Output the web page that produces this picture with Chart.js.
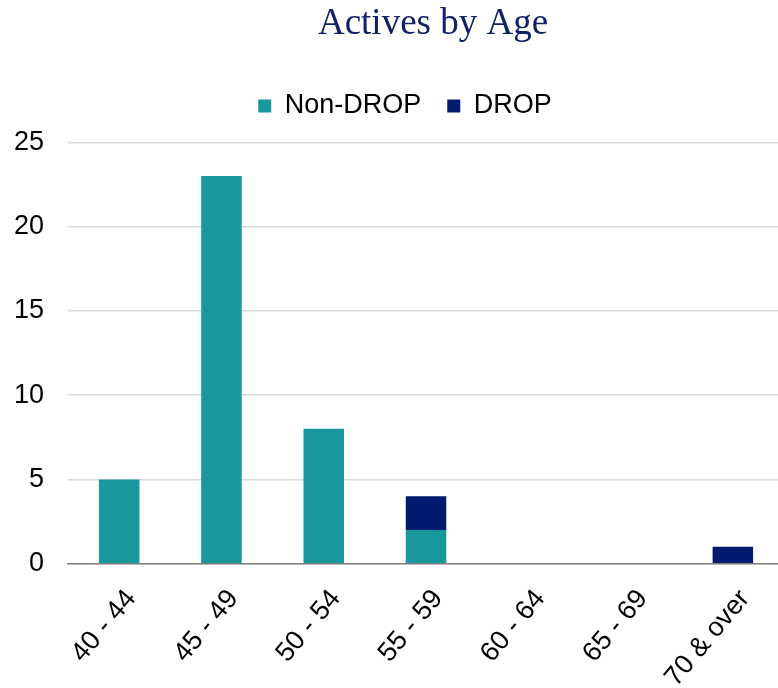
<!DOCTYPE html>
<html>
<head>
<meta charset="utf-8">
<script src="https://cdn.jsdelivr.net/npm/chart.js@4/dist/chart.umd.min.js"></script>
<style>
html,body{margin:0;padding:0;background:#fff;overflow:hidden;width:778px;height:688px;}
#wrap{width:784px;height:688px;}
</style>
</head>
<body>
<div id="wrap"><canvas id="c" width="784" height="688"></canvas></div>
<script>
const categories = ["40 - 44","45 - 49","50 - 54","55 - 59","60 - 64","65 - 69","70 & over"];
const nonDrop = [5,23,8,2,0,0,0];
const drop = [0,0,0,2,0,0,1];
const yTicks = [0,5,10,15,20,25];

const layoutTweaks = {
  id: 'layoutTweaks',
  beforeInit(chart) {
    const origFit = chart.legend.fit;
    chart.legend.fit = function () {
      origFit.call(this);
      this.height += 13;
    };
  },
  afterLayout(chart) {
    if (chart.titleBlock) { chart.titleBlock.left += 14; }
    if (chart.legend) { chart.legend.left += 12; }
  }
};

new Chart(document.getElementById('c'), {
  type: 'bar',
  data: {
    labels: categories,
    datasets: [
      {label: 'Non-DROP', data: nonDrop, backgroundColor: '#18989C', borderWidth: 0, categoryPercentage: 0.44, barPercentage: 0.9},
      {label: 'DROP', data: drop, backgroundColor: '#021B6E', borderWidth: 0, categoryPercentage: 0.44, barPercentage: 0.9}
    ]
  },
  plugins: [layoutTweaks],
  options: {
    responsive: false,
    animation: false,
    layout: {padding: {left: 14, right: 0, top: 2, bottom: 0}},
    plugins: {
      title: {
        display: true, text: 'Actives by Age', fullSize: false,
        color: '#0F2167',
        font: {family: '"Liberation Serif", "DejaVu Serif", serif', size: 37, weight: 'normal'},
        padding: {top: 0, bottom: 20}
      },
      legend: {
        display: true, position: 'top',
        labels: {
          color: '#000', boxWidth: 13, boxHeight: 13, padding: 26,
          font: {family: '"Liberation Sans", Arial, sans-serif', size: 27}
        }
      },
      tooltip: {enabled: false}
    },
    scales: {
      x: {
        stacked: true,
        grid: {display: false},
        border: {display: true, color: '#808080', width: 1.5},
        afterFit: (scale) => { scale.paddingLeft = 0; scale.paddingRight = 0; scale.height -= 17; },
        ticks: {
          color: '#000', maxRotation: 50, minRotation: 50, padding: 12, labelOffset: 12,
          font: {family: '"Liberation Sans", Arial, sans-serif', size: 27}
        }
      },
      y: {
        stacked: true, min: 0, max: 25,
        afterBuildTicks: (ax) => { ax.ticks = yTicks.map(v => ({value: v})); },
        afterFit: (scale) => { scale.width -= 24; },
        grid: {color: '#D9D9D9', lineWidth: 1.5, drawTicks: false},
        border: {display: false},
        ticks: {
          color: '#000', padding: 24,
          font: {family: '"Liberation Sans", Arial, sans-serif', size: 27}
        }
      }
    }
  }
});
</script>
</body>
</html>
